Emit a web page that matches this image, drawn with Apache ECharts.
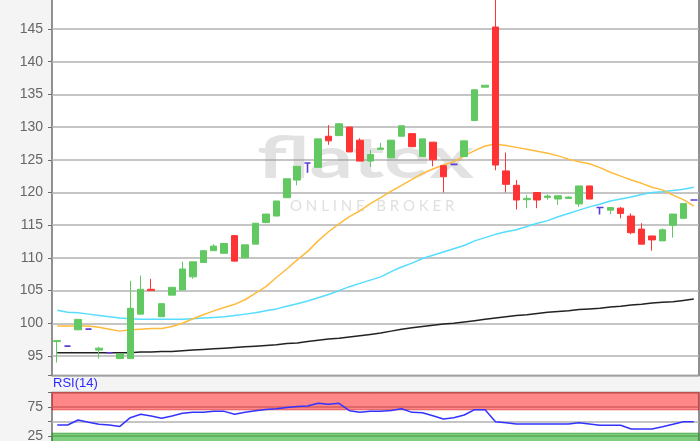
<!DOCTYPE html>
<html>
<head>
<meta charset="utf-8">
<title>flatex chart</title>
<script src="https://cdn.jsdelivr.net/npm/echarts@6/dist/echarts.min.js"></script>
<style>
  html, body { margin: 0; padding: 0; background: #f4f4f4; }
  #chart { width: 700px; height: 441px; }
</style>
</head>
<body>
<div id="chart"></div>
<script>
// daily candles: open / close / low / high
const opens  = [97.2, 96.5, 99.0, 99.1, 95.9, 95.5, 94.6, 94.6, 101.4, 105.2,
  101.0, 104.3, 105.1, 107.1, 109.3, 111.1, 110.7, 113.4, 110.0, 112.1,
  115.4, 116.4, 119.2, 121.9, 124.5, 123.85, 128.6, 128.7, 130.0, 128.0,
  124.8, 126.6, 125.3, 128.6, 129.0, 125.5, 127.7, 124.1, 124.3, 125.5,
  131.0, 136.1, 145.3, 123.3, 121.1, 118.9, 120.0, 119.25, 119.0, 119.1,
  118.25, 121.0, 117.7, 117.3, 117.6, 116.4, 114.4, 113.35, 112.6, 115.0,
  116.05, 118.85];
const closes = [97.35, 96.5, 100.6, 99.1, 96.2, 95.5, 95.3, 102.3, 105.2, 105.0,
  103.0, 105.5, 108.3, 109.4, 111.1, 111.8, 112.2, 109.5, 112.0, 115.3,
  116.7, 118.7, 122.1, 124.0, 124.5, 128.2, 127.9, 130.5, 126.2, 124.8,
  125.8, 126.8, 128.0, 130.2, 127.0, 128.2, 125.0, 122.4, 124.3, 127.9,
  135.7, 136.4, 124.2, 121.25, 118.85, 119.1, 118.85, 119.45, 119.5, 119.3,
  121.0, 119.0, 117.7, 117.7, 116.8, 113.85, 112.1, 112.75, 114.3, 116.7,
  118.3, 118.85];
const lows   = [94.0, 96.5, 99.0, 99.1, 94.6, 95.5, 94.6, 94.6, 101.4, 105.0,
  101.0, 104.3, 105.1, 106.8, 109.3, 111.1, 110.7, 109.5, 110.0, 112.1,
  115.3, 116.4, 119.2, 121.1, 123.0, 123.85, 127.3, 128.7, 126.2, 124.8,
  123.9, 126.6, 125.3, 128.6, 127.0, 125.5, 124.0, 120.0, 124.3, 125.5,
  131.0, 136.1, 123.4, 120.0, 117.4, 117.6, 117.6, 118.9, 118.1, 119.0,
  117.8, 119.0, 116.65, 116.7, 116.05, 113.6, 112.1, 111.1, 112.6, 113.1,
  116.05, 118.85];
const highs  = [97.35, 96.5, 100.6, 99.1, 96.4, 95.5, 95.3, 106.5, 107.3, 106.8,
  103.0, 105.5, 109.4, 109.4, 111.1, 112.1, 112.2, 113.4, 112.0, 115.3,
  116.7, 118.7, 122.1, 124.0, 124.5, 128.2, 130.3, 130.6, 130.0, 128.3,
  126.5, 127.6, 128.0, 130.2, 129.0, 128.2, 127.7, 124.1, 124.3, 127.9,
  135.8, 136.4, 152.0, 126.1, 121.9, 119.6, 120.0, 119.7, 119.5, 119.4,
  121.0, 121.0, 117.7, 117.7, 117.8, 116.8, 115.3, 113.4, 114.5, 116.7,
  118.3, 118.85];

// moving averages
const maShort = [99.6, 99.6, 99.6, 99.6, 99.4, 99.1, 98.8, 99.0, 99.1, 99.2,
  99.2, 99.5, 100.0, 100.7, 101.3, 101.9, 102.4, 102.9, 103.6, 104.6,
  105.6, 107.0, 108.3, 109.7, 111.0, 112.6, 114.0, 115.2, 116.3, 117.2,
  118.3, 119.2, 120.2, 121.1, 122.0, 122.9, 123.6, 124.2, 124.7, 125.6,
  126.4, 127.1, 127.4, 127.2, 126.9, 126.6, 126.3, 126.0, 125.6, 125.1,
  124.7, 124.4, 123.8, 123.1, 122.5, 121.9, 121.4, 120.8, 120.4, 119.6,
  118.9, 117.9];
const maMid = [102.0, 101.7, 101.6, 101.4, 101.2, 101.0, 100.8, 100.7, 100.6, 100.6,
  100.6, 100.6, 100.6, 100.7, 100.8, 100.9, 101.0, 101.2, 101.4, 101.6,
  101.9, 102.2, 102.6, 103.0, 103.4, 103.9, 104.4, 105.0, 105.6, 106.1,
  106.6, 107.1, 107.9, 108.6, 109.2, 109.9, 110.4, 110.9, 111.4, 111.9,
  112.6, 113.1, 113.6, 114.0, 114.3, 114.8, 115.3, 115.7, 116.3, 116.8,
  117.3, 117.8, 118.2, 118.7, 119.0, 119.3, 119.7, 120.0, 120.1, 120.3,
  120.5, 120.8];
const maLong = [95.5, 95.5, 95.5, 95.5, 95.5, 95.5, 95.5, 95.5, 95.6, 95.6,
  95.7, 95.7, 95.8, 95.9, 96.0, 96.1, 96.2, 96.3, 96.4, 96.5,
  96.6, 96.7, 96.9, 97.0, 97.2, 97.4, 97.6, 97.7, 97.9, 98.1,
  98.3, 98.5, 98.8, 99.1, 99.3, 99.5, 99.7, 99.9, 100.0, 100.2,
  100.4, 100.6, 100.8, 101.0, 101.2, 101.3, 101.5, 101.7, 101.8, 101.9,
  102.1, 102.2, 102.3, 102.5, 102.6, 102.8, 102.9, 103.1, 103.2, 103.3,
  103.5, 103.7];

// RSI(14)
const rsi = [44, 44, 52.6, 48.6, 45.2, 44, 41.5, 56.6, 62.4, 59.5,
  55.5, 59.5, 64.1, 65.8, 65.8, 67.5, 67.5, 62.4, 65.8, 68.7,
  70.5, 72, 74, 76, 76.7, 81.4, 79.6, 81.4, 68.7, 65.8,
  67.5, 67.5, 69, 72.1, 65.8, 65.2, 60, 54.3, 56.4, 61.2,
  70.4, 70.4, 49.7, 48, 45.7, 45.7, 45.7, 45.7, 45.7, 45.7,
  48, 45.7, 43.4, 43.4, 43.4, 37, 37, 37, 41, 45.2,
  49.7, 49.7];

const rsiTicks = [25, 75];

const UP = '#62c962';
const DOWN = '#ff3333';
const DOJI = '#5b3cd4';

const days = opens.map((v, i) => String(i + 1));

// candlestick wants [open, close, low, high]
const candles = opens.map((o, i) => {
  const item = { value: [o, closes[i], lows[i], highs[i]] };
  if (o === closes[i]) {
    // open == close: drawn as a purple dash
    item.itemStyle = {
      color: DOJI, color0: DOJI, borderColor: DOJI, borderColor0: DOJI,
      borderWidth: 1.6
    };
  }
  return item;
});

const chart = echarts.init(document.getElementById('chart'));

const labelStyle = {
  color: '#666',
  fontSize: 14,
  fontFamily: 'Liberation Sans, Arial, sans-serif',
  margin: 9
};

const option = {
  backgroundColor: '#f4f4f4',
  animation: false,
  grid: [
    {
      left: 52, right: 1, top: -3.7, height: 379.3,
      outerBoundsMode: 'none', containLabel: false,
      show: true, backgroundColor: '#fff',
      borderColor: '#6e6e6e', borderWidth: 1.5
    },
    {
      left: 52, right: 1, top: 392.5, height: 58,
      outerBoundsMode: 'none', containLabel: false,
      show: true, backgroundColor: '#fff',
      borderColor: '#6e6e6e', borderWidth: 1.5
    }
  ],
  xAxis: [
    {
      type: 'category', gridIndex: 0, data: days, boundaryGap: true,
      axisLine: { show: false }, axisTick: { show: false },
      axisLabel: { show: false }, splitLine: { show: false }
    },
    {
      type: 'category', gridIndex: 1, data: days, boundaryGap: true,
      axisLine: { show: false }, axisTick: { show: false },
      axisLabel: { show: false }, splitLine: { show: false }
    }
  ],
  yAxis: [
    {
      type: 'value', gridIndex: 0, min: 92, max: 150,
      minInterval: 5, maxInterval: 5, splitNumber: 12,
      axisLine: { show: false },
      axisTick: { show: true, length: 4, lineStyle: { color: '#6e6e6e' } },
      axisLabel: Object.assign({}, labelStyle, {
        formatter: (v) => (v % 5 === 0 ? String(v) : '')
      }),
      splitLine: { show: true, lineStyle: { color: '#b2b2b2', width: 1.5 } }
    },
    {
      type: 'value', gridIndex: 1, min: 0, max: 100, interval: 25,
      axisLine: { show: false },
      axisTick: { show: true, length: 4, lineStyle: { color: '#6e6e6e' } },
      axisLabel: Object.assign({}, labelStyle, {
        formatter: (v) => (rsiTicks.indexOf(v) >= 0 ? String(v) : '')
      }),
      splitLine: { show: true, lineStyle: { color: '#b2b2b2', width: 1.5 } }
    }
  ],
  graphic: [
    {
      type: 'text', left: 257, top: 130, z: 1, scaleX: 1.48,
      style: {
        text: 'flatex',
        font: 'bold 58px Lato, sans-serif',
        fill: 'rgba(150,150,150,0.28)'
      }
    },
    {
      type: 'text', left: 290, top: 199, z: 1,
      style: {
        text: 'O N L I N E   B R O K E R',
        font: '15px Lato, sans-serif',
        fill: 'rgba(150,150,150,0.3)'
      }
    },
    {
      type: 'text', left: 53, top: 377, z: 5,
      style: {
        text: 'RSI(14)',
        font: '13px Liberation Sans, Arial, sans-serif',
        fill: '#2b2bff'
      }
    }
  ],
  series: [
    {
      name: 'MA long', type: 'line', xAxisIndex: 0, yAxisIndex: 0,
      data: maLong, symbol: 'none', z: 3,
      lineStyle: { color: '#222', width: 1.5 }
    },
    {
      name: 'MA mid', type: 'line', xAxisIndex: 0, yAxisIndex: 0,
      data: maMid, symbol: 'none', z: 3,
      lineStyle: { color: '#55dcff', width: 1.5 }
    },
    {
      name: 'MA short', type: 'line', xAxisIndex: 0, yAxisIndex: 0,
      data: maShort, symbol: 'none', z: 3,
      lineStyle: { color: '#ffbb3d', width: 1.5 }
    },
    {
      name: 'Kurs', type: 'candlestick', xAxisIndex: 0, yAxisIndex: 0,
      data: candles, barWidth: 7, z: 4,
      itemStyle: {
        color: UP, color0: DOWN,
        borderColor: UP, borderColor0: DOWN,
        borderColorDoji: DOJI, borderWidth: 1
      }
    },
    {
      name: 'RSI(14)', type: 'line', xAxisIndex: 1, yAxisIndex: 1,
      data: rsi, symbol: 'none', z: 4,
      lineStyle: { color: '#3333ff', width: 1.5 },
      markArea: {
        silent: true,
        data: [
          [{ yAxis: 70, itemStyle: { color: 'rgba(255,0,0,0.47)', borderColor: 'rgba(200,40,40,0.5)', borderWidth: 1 } }, { yAxis: 100 }],
          [{ yAxis: 0, itemStyle: { color: 'rgba(0,160,0,0.5)', borderColor: 'rgba(30,140,30,0.5)', borderWidth: 1 } }, { yAxis: 30 }]
        ]
      }
    }
  ]
};

chart.setOption(option);
</script>
</body>
</html>
